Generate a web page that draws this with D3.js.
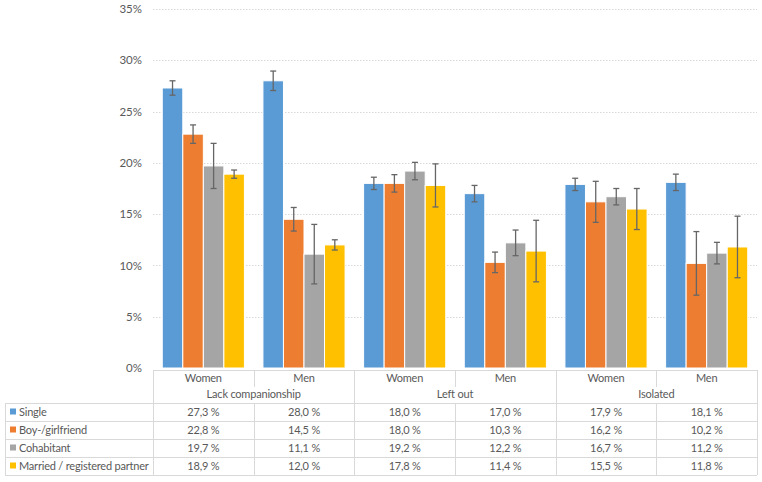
<!DOCTYPE html>
<html><head><meta charset="utf-8">
<script src="https://cdn.jsdelivr.net/npm/d3@7"></script>
<style>
html,body{margin:0;padding:0;background:#fff;}
svg text{font-family:Lato,"Noto Sans",sans-serif;fill:#595959;}
</style></head>
<body><svg id="chart" width="762" height="482"></svg>
<script>
const groups = ["Lack companionship", "Left out", "Isolated"];
const genders = ["Women", "Men"];
const series = ["Single", "Boy-/girlfriend", "Cohabitant", "Married / registered partner"];
const colors = ["#5B9BD5", "#ED7D31", "#A5A5A5", "#FFC000"];
// values per series, order: LC-W, LC-M, LO-W, LO-M, IS-W, IS-M
const single      = [27.3, 28.0, 18.0, 17.0, 17.9, 18.1];
const boyGirl     = [22.8, 14.5, 18.0, 10.3, 16.2, 10.2];
const cohabitant  = [19.7, 11.1, 19.2, 12.2, 16.7, 11.2];
const married     = [18.9, 12.0, 17.8, 11.4, 15.5, 11.8];
// error bar half-widths (percentage points)
const errSingle     = [0.7, 0.95, 0.6, 0.8, 0.6, 0.8];
const errBoyGirl    = [0.9, 1.15, 0.85, 1.0, 2.0, 3.1];
const errCohabitant = [2.2, 2.9, 0.85, 1.25, 0.8, 1.05];
const errMarried    = [0.4, 0.5, 2.1, 3.0, 2.0, 3.0];
const yTicks = [0, 5, 10, 15, 20, 25, 30, 35];

const values = [single, boyGirl, cohabitant, married];
const errs = [errSingle, errBoyGirl, errCohabitant, errMarried];
const cats = [];
groups.forEach(g => genders.forEach(s => cats.push(g + "|" + s)));

const svg = d3.select("#chart");
const pLeft = 153, pRight = 757, pTop = 9, pBottom = 368;
const x = d3.scaleBand().domain(cats).range([pLeft, pRight]).paddingInner(0).paddingOuter(0);
const bw = x.bandwidth();
const xs = d3.scaleBand().domain(series).range([bw * 0.092, bw * 0.908]).paddingInner(0).paddingOuter(0);
const y = d3.scaleLinear().domain([0, 35]).range([pBottom, pTop]);
const fs = "11px", ls = "-0.2px";

// gridlines
svg.append("g").selectAll("line").data(yTicks.filter(t => t > 0)).join("line")
  .attr("x1", pLeft).attr("x2", pRight)
  .attr("y1", d => Math.round(y(d)) + 0.5).attr("y2", d => Math.round(y(d)) + 0.5)
  .attr("stroke", "#D9D9D9").attr("stroke-width", 1).attr("stroke-dasharray", "1.5,1.5");

// y axis labels
const yAxis = d3.axisLeft(y).tickValues(yTicks).tickFormat(d => d + "%").tickSize(0).tickPadding(11);
const ya = svg.append("g").attr("transform", `translate(${pLeft},0)`).call(yAxis);
ya.select(".domain").remove();
ya.selectAll("text").style("font-size", "11.5px").attr("fill", "#595959").style("font-family", "Lato, sans-serif");

// bars
const barData = [];
series.forEach((s, si) => cats.forEach((c, ci) => barData.push({s, si, c, v: values[si][ci], e: errs[si][ci]})));
svg.append("g").selectAll("rect").data(barData).join("rect")
  .attr("x", d => x(d.c) + xs(d.s))
  .attr("width", xs.bandwidth())
  .attr("y", d => y(d.v))
  .attr("height", d => y(0) - y(d.v))
  .attr("fill", d => colors[d.si])
  .attr("stroke", "#fff").attr("stroke-width", 1);

// error bars
const eg = svg.append("g").attr("stroke", "#666666").attr("stroke-width", 1.3);
barData.forEach(d => {
  const cx = x(d.c) + xs(d.s) + xs.bandwidth() / 2;
  const y1 = y(d.v + d.e), y2 = y(d.v - d.e);
  eg.append("line").attr("x1", cx).attr("x2", cx).attr("y1", y1).attr("y2", y2);
  eg.append("line").attr("x1", cx - 3).attr("x2", cx + 3).attr("y1", y1).attr("y2", y1);
  eg.append("line").attr("x1", cx - 3).attr("x2", cx + 3).attr("y1", y2).attr("y2", y2);
});

// data table
const tb = svg.append("g");
const lc = "#D9D9D9";
const tTop = 370, subRow = 387, hdrBottom = 403, rowH = 18, tLeft = 5;
const nRows = series.length;
const tBottom = hdrBottom + nRows * rowH;
function hline(x1, x2, yy) { tb.append("line").attr("x1", x1).attr("x2", x2).attr("y1", yy + 0.5).attr("y2", yy + 0.5).attr("stroke", lc); }
function vline(xx, y1, y2) { tb.append("line").attr("x1", xx + 0.5).attr("x2", xx + 0.5).attr("y1", y1).attr("y2", y2).attr("stroke", lc); }
hline(pLeft, pRight, tTop);
for (let r = 0; r <= nRows; r++) hline(tLeft, pRight, hdrBottom + r * rowH);
vline(tLeft, hdrBottom, tBottom);
cats.forEach((c, i) => {
  const xx = Math.round(x(c));
  if (i % 2 === 0) vline(xx, tTop, tBottom);
  else { vline(xx, tTop, subRow); vline(xx, hdrBottom, tBottom); }
});
vline(pRight, tTop, tBottom);

function txt(xx, yy, s, anchor) {
  return tb.append("text").attr("x", xx).attr("y", yy).attr("text-anchor", anchor)
    .style("font-size", fs).style("letter-spacing", ls).text(s);
}
cats.forEach(c => txt(x(c) + bw / 2, 382, c.split("|")[1], "middle"));
groups.forEach(g => txt(x(g + "|" + genders[0]) + bw, 398, g, "middle"));
const fmt = d3.format(".1f");
series.forEach((s, si) => {
  const cy = hdrBottom + si * rowH + rowH / 2;
  tb.append("rect").attr("x", 10).attr("y", cy - 3.5).attr("width", 6).attr("height", 6).attr("fill", colors[si]);
  txt(19, cy + 4, s, "start");
  cats.forEach((c, ci) => txt(x(c) + bw / 2, cy + 4, fmt(values[si][ci]).replace(".", ",") + " %", "middle"));
});
</script></body></html>
